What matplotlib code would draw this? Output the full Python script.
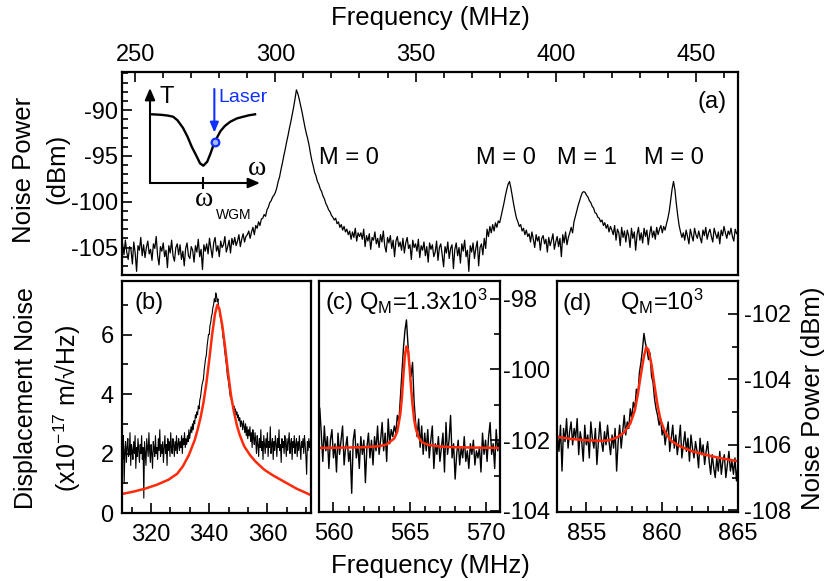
import matplotlib
matplotlib.use('Agg')
import matplotlib.pyplot as plt
import numpy as np
from matplotlib.ticker import MultipleLocator

plt.rcParams['font.family'] = ['Liberation Sans', 'DejaVu Sans']
plt.rcParams['mathtext.fontset'] = 'custom'
plt.rcParams['mathtext.rm'] = 'Liberation Sans'
plt.rcParams['mathtext.it'] = 'Liberation Sans'
plt.rcParams['axes.unicode_minus'] = False

# ---- (a) broad noise spectrum, 245.5 .. 465 MHz, 0.5 MHz step ----
f_a_start, f_a_step = 245.5, 0.5
noise_a = [
    -104.6, -105.8, -104.2, -105.5, -106.3, -104.9, -105.2, -106.8, -104.4, -105.6,
    -107.6, -104.8, -105.3, -103.9, -105.9, -104.7, -106.1, -105.0, -104.3, -105.7,
    -105.2, -106.4, -104.6, -105.1, -103.8, -105.9, -106.9, -104.9, -105.4, -104.5,
    -106.0, -105.3, -107.2, -104.8, -105.6, -104.2, -105.9, -106.5, -105.0, -104.6,
    -105.8, -104.7, -106.3, -105.4, -107.0, -105.1, -104.5, -105.9, -106.2, -104.9,
    -105.3, -106.6, -104.8, -105.5, -104.1, -106.0, -105.2, -107.4, -104.7, -105.4,
    -104.6, -105.7, -104.0, -105.1, -106.1, -104.5, -103.9, -105.4, -104.8, -106.0,
    -104.3, -105.0, -104.7, -103.8, -105.5, -104.9, -104.2, -105.6, -104.0, -104.7,
    -103.9, -104.8, -104.3, -103.6, -104.9, -104.1, -103.5, -104.4, -103.8, -103.6,
    -103.2, -104.0, -103.3, -102.8, -103.6, -102.6, -102.9, -102.2, -102.6, -101.9,
    -101.8, -101.4, -101.6, -100.9, -100.6, -100.1, -99.9, -99.5, -99.3, -99.0,
    -98.5, -97.8, -97.3, -96.5, -95.8, -95.0, -94.3, -93.5, -92.8, -92.0,
    -91.3, -90.5, -89.7, -88.8, -87.8, -88.2, -88.8, -89.5, -90.2, -91.0,
    -91.8, -92.5, -93.1, -93.8, -94.7, -95.5, -96.1, -96.8, -97.2, -97.8,
    -98.1, -98.6, -98.9, -99.4, -99.7, -100.2, -100.5, -100.9, -101.1, -101.5,
    -101.7, -102.0, -101.8, -102.4, -102.2, -102.8, -102.5, -103.1, -102.7, -103.3,
    -103.0, -103.6, -103.2, -104.1, -103.3, -103.9, -102.9, -104.3, -103.4, -103.8,
    -103.4, -104.1, -103.0, -104.9, -103.7, -104.3, -103.5, -105.2, -103.9, -104.2,
    -103.3, -104.6, -104.0, -105.0, -103.6, -104.4, -103.2, -104.8, -105.5, -103.9,
    -104.5, -103.7, -105.1, -104.2, -106.0, -104.3, -103.8, -104.9, -104.4, -105.3,
    -104.0, -105.6, -104.5, -103.9, -105.1, -104.7, -106.3, -104.2, -105.0, -104.6,
    -105.4, -104.1, -106.1, -104.8, -105.3, -104.4, -105.9, -104.9, -106.6, -104.5,
    -105.2, -104.7, -106.0, -105.5, -104.3, -106.4, -105.0, -104.6, -105.8, -107.1,
    -104.9, -105.6, -104.4, -106.2, -105.1, -104.7, -107.3, -105.2, -104.5, -105.9,
    -105.0, -106.7, -104.6, -105.4, -104.2, -106.0, -105.3, -107.6, -104.8, -105.5,
    -104.5, -106.2, -105.1, -104.3, -107.0, -105.0, -104.6, -105.8, -104.0, -105.1,
    -103.0, -103.8, -102.7, -103.4, -102.5, -103.2, -102.3, -102.8, -102.1, -102.3,
    -101.6, -100.9, -100.2, -99.4, -98.7, -98.1, -97.8, -98.5, -99.4, -100.3,
    -101.1, -101.8, -102.2, -102.7, -102.5, -103.2, -102.9, -103.6, -103.1, -103.8,
    -103.5, -104.4, -103.3, -104.1, -105.0, -103.6, -104.3, -103.8, -105.3, -104.0,
    -103.7, -104.6, -104.1, -105.5, -103.9, -104.8, -104.2, -103.5, -105.2, -104.4,
    -103.8, -104.9, -104.0, -106.0, -103.6, -104.5, -103.3, -104.7, -103.9, -103.4,
    -102.8, -103.4, -102.2, -101.6, -101.0, -100.4, -99.9, -99.4, -99.0, -98.9,
    -99.0, -99.3, -99.5, -99.9, -100.1, -100.5, -100.7, -101.2, -101.3, -101.7,
    -101.8, -102.2, -102.0, -102.6, -102.3, -102.9, -102.5, -103.3, -102.7, -103.1,
    -103.6, -102.6, -104.2, -103.0, -103.4, -104.8, -102.8, -103.9, -103.2, -104.4,
    -103.1, -103.7, -105.0, -102.9, -104.0, -103.3, -105.3, -103.6, -102.8, -104.2,
    -103.4, -104.5, -102.9, -103.8, -103.1, -104.7, -103.5, -102.7, -103.9, -103.2,
    -104.1, -102.8, -103.6, -103.0, -102.6, -103.4, -102.7, -103.1, -102.4, -101.8,
    -101.0, -99.8, -98.6, -97.8, -98.7, -100.2, -101.5, -102.6, -103.3, -103.9,
    -103.4, -104.2, -103.1, -103.8, -104.6, -103.0, -103.7, -104.3, -102.9, -103.6,
    -104.0, -103.2, -103.9, -104.5, -103.1, -103.7, -102.8, -104.1, -103.4, -103.0,
    -103.8, -104.4, -102.9, -103.5, -104.0, -103.3, -104.6, -103.1, -103.7, -102.7,
    -103.4, -104.0, -103.2, -103.6, -102.9, -103.8, -104.3, -103.0, -103.5, -103.2,
]
mode_labels = ['M = 0', 'M = 0', 'M = 1', 'M = 0']
mode_label_freq = [315.4, 371.5, 400.5, 431.4]

# ---- (b) displacement noise, 310 .. 375 MHz, 0.25 MHz step ----
f_b_start, f_b_step = 310.0, 0.25
disp_b = [
    2.3, 1.8, 2.6, 1.0, 2.1, 2.4, 1.7, 2.2,
    2.5, 1.9, 2.0, 2.7, 1.6, 2.3, 2.1, 1.8,
    2.4, 2.0, 2.6, 1.5, 2.2, 1.9, 2.5, 2.1,
    1.7, 2.3, 2.0, 2.6, 1.8, 2.2, 0.5, 2.4,
    2.0, 1.6, 2.5, 2.2, 1.9, 2.7, 2.1, 1.7,
    2.3, 2.0, 1.5, 2.4, 2.2, 1.9, 2.6, 2.0,
    2.2, 1.8, 2.5, 2.1, 2.8, 1.9, 2.3, 2.0,
    2.4, 1.7, 2.2, 2.6, 2.0, 2.3, 1.6, 2.5,
    2.1, 2.4, 1.9, 2.7, 2.2, 2.0, 2.5, 2.3,
    1.9, 2.4, 2.1, 2.6, 2.0, 2.3, 2.5, 2.1,
    2.4, 2.2, 2.6, 2.0, 2.5, 2.3, 2.7, 2.2,
    2.5, 2.3, 2.6, 2.4, 2.8, 2.5, 2.7, 2.9,
    2.7, 3.0, 2.8, 3.1, 3.0, 3.3, 3.2, 3.4,
    3.3, 3.6, 3.5, 3.8, 3.9, 4.1, 4.3, 4.4,
    4.5, 4.8, 5.0, 5.2, 5.3, 5.6, 5.8, 6.0,
    6.0, 6.3, 6.4, 6.6, 6.7, 6.9, 7.0, 7.2,
    7.1, 7.4, 7.3, 7.1, 7.2, 6.9, 6.9, 6.6,
    6.6, 6.3, 6.2, 5.9, 5.8, 5.5, 5.3, 5.1,
    4.9, 4.6, 4.5, 4.3, 4.1, 3.9, 3.9, 3.7,
    3.7, 3.5, 3.6, 3.4, 3.5, 3.3, 3.4, 3.2,
    3.3, 3.1, 3.2, 2.9, 3.1, 3.0, 2.8, 3.1,
    2.9, 2.7, 3.0, 2.6, 2.9, 2.5, 2.8, 2.6,
    2.9, 2.4, 2.7, 2.2, 2.8, 2.5, 2.3, 2.7,
    2.4, 2.0, 2.6, 2.3, 1.9, 2.5, 2.2, 2.8,
    2.1, 2.4, 1.8, 2.6, 2.3, 2.0, 2.5, 2.2,
    2.7, 1.9, 2.4, 2.2, 2.9, 2.0, 2.3, 2.5,
    1.8, 2.4, 2.1, 2.6, 2.3, 1.9, 2.5, 2.2,
    2.8, 2.1, 2.3, 1.7, 2.5, 2.2, 2.4, 2.0,
    2.6, 2.3, 1.9, 2.5, 2.1, 2.4, 2.7, 2.0,
    2.3, 2.5, 1.8, 2.4, 2.2, 2.6, 2.0, 2.3,
    2.5, 1.9, 2.4, 2.1, 2.6, 2.2, 1.8, 2.4,
    2.2, 2.5, 2.0, 2.6, 2.3, 1.9, 1.3, 2.4,
    2.1, 2.5, 2.2, 2.4, 2.3,
]
fit_b_freq = [310, 314, 318, 322, 326, 329, 331, 333, 335, 336, 337, 338, 339, 340, 341, 342,
              342.8, 343.5, 344.5, 345.5, 346.5, 347.5, 348.5, 349.5, 350.5, 352, 354, 356,
              359, 362, 366, 370, 375]
fit_b = [0.64, 0.72, 0.82, 0.95, 1.12, 1.32, 1.58, 1.95, 2.45, 2.80, 3.20, 3.70, 4.35, 5.15, 6.00,
         6.70, 7.0, 6.85, 6.30, 5.55, 4.70, 3.95, 3.40, 2.95, 2.62, 2.25, 1.95, 1.72, 1.45, 1.26,
         1.04, 0.82, 0.60]

# ---- (c) 559.1 .. 571.0 MHz, 0.1 MHz step ----
f_c_start, f_c_step = 559.1, 0.1
power_c = [
    -101.1, -101.8, -102.6, -101.6, -102.3, -101.9, -102.8, -102.0, -101.7, -102.5,
    -102.1, -102.9, -101.8, -102.4, -102.0, -101.6, -102.7, -102.2, -101.9, -102.6,
    -102.3, -103.5, -102.0, -101.7, -102.5, -102.1, -102.8, -101.9, -102.4, -102.0,
    -103.2, -102.2, -101.8, -102.5, -102.0, -102.7, -101.9, -102.3, -101.6, -102.4,
    -102.0, -101.5, -102.3, -101.8, -102.6, -101.4, -102.1, -101.7, -101.9, -101.6,
    -101.8, -101.3, -101.5, -100.8, -100.1, -99.4, -98.9, -98.6, -99.3, -99.9,
    -100.2, -99.8, -100.9, -101.5, -101.9, -101.4, -102.2, -101.6, -102.4, -101.8,
    -102.3, -101.7, -102.5, -102.0, -101.6, -102.8, -102.1, -102.4, -101.9, -102.6,
    -102.2, -101.8, -102.9, -101.5, -102.4, -102.0, -101.3, -102.5, -102.1, -103.1,
    -102.4, -102.0, -102.7, -102.2, -102.5, -101.9, -102.6, -102.3, -102.8, -102.1,
    -102.4, -102.0, -102.7, -102.3, -102.5, -102.2, -102.9, -101.8, -102.4, -102.0,
    -102.6, -101.9, -101.5, -102.4, -102.1, -102.8, -101.7, -102.3, -102.0, -102.5,
]
fit_c_freq = [559.0, 562.0, 563.0, 563.5, 564.0, 564.2, 564.4, 564.5, 564.6, 564.7, 564.8, 564.9,
              565.0, 565.1, 565.2, 565.3, 565.4, 565.6, 565.8, 566.2, 567.0, 568.0, 571.0]
fit_c = [-102.22, -102.2, -102.17, -102.12, -101.95, -101.75, -101.25, -100.8, -100.15, -99.6,
         -99.35, -99.45, -99.9, -100.5, -101.0, -101.4, -101.65, -101.92, -102.05, -102.13,
         -102.18, -102.2, -102.22]

# ---- (d) 853.1 .. 865.0 MHz, 0.1 MHz step ----
f_d_start, f_d_step = 853.1, 0.1
power_d = [
    -105.7, -106.2, -105.4, -106.8, -105.5, -105.9, -105.2, -106.1, -105.6, -105.3,
    -106.0, -105.5, -105.8, -105.2, -106.3, -105.6, -105.9, -106.5, -105.4, -106.0,
    -105.7, -106.4, -105.3, -105.8, -106.1, -105.5, -106.6, -105.9, -105.3, -105.9,
    -106.2, -105.6, -106.0, -105.4, -105.9, -106.3, -105.7, -106.1, -105.5, -106.8,
    -105.9, -105.4, -106.1, -105.6, -105.1, -105.7, -105.3, -105.5, -104.9, -105.2,
    -104.7, -104.9, -104.3, -104.5, -103.8, -103.5, -103.1, -102.6, -102.9, -103.1,
    -103.4, -103.2, -103.9, -104.1, -104.6, -104.9, -105.1, -105.4, -105.2, -105.7,
    -105.5, -106.0, -105.6, -105.3, -106.2, -105.8, -105.4, -106.1, -105.7, -106.3,
    -105.9, -105.4, -106.4, -106.0, -105.6, -106.2, -105.8, -106.5, -105.7, -106.1,
    -106.4, -105.9, -106.2, -106.7, -105.8, -106.3, -106.0, -106.6, -106.2, -105.9,
    -106.5, -106.9, -106.3, -106.7, -107.0, -106.4, -106.8, -106.2, -106.9, -106.5,
    -106.3, -107.0, -106.6, -106.2, -106.8, -106.5, -106.9, -106.4, -107.1, -106.6,
]
fit_d_freq = [853.1, 854, 855, 856, 856.5, 857, 857.5, 857.9, 858.2, 858.4, 858.6, 858.8, 858.95,
              859.1, 859.3, 859.5, 859.7, 859.9, 860.2, 860.6, 861.2, 862, 863, 864, 865]
fit_d = [-105.76, -105.82, -105.86, -105.88, -105.86, -105.78, -105.62, -105.35, -104.95, -104.45,
         -103.85, -103.3, -103.02, -103.1, -103.55, -104.2, -104.8, -105.25, -105.62, -105.88,
         -106.05, -106.2, -106.32, -106.42, -106.5]

# ---- inset: transmission dip sketch ----
omega_dip = [0.02, 0.10, 0.16, 0.21, 0.25, 0.30, 0.34, 0.38, 0.42, 0.455, 0.485, 0.52, 0.55,
             0.58, 0.61, 0.64, 0.68, 0.73, 0.79, 0.85, 0.90, 0.955]
T_dip = [0.723, 0.718, 0.71, 0.698, 0.66, 0.58, 0.49, 0.38, 0.29, 0.207, 0.182, 0.224, 0.31,
         0.41, 0.48, 0.545, 0.60, 0.645, 0.68, 0.698, 0.713, 0.723]
omega_wgm = 0.485
laser_omega, laser_T = 0.59, 0.435

RED = '#ff2a0a'
W, H = 826, 581


def box(l, t, r, b):
    return [l / W, 1 - b / H, (r - l) / W, (b - t) / H]


def style(ax):
    for s in ax.spines.values():
        s.set_linewidth(1.6)
    ax.tick_params(which='both', direction='in', width=1.2, labelsize=17)
    ax.tick_params(which='major', length=7)
    ax.tick_params(which='minor', length=4)


fig = plt.figure(figsize=(W / 100, H / 100), dpi=100)

# panel (a)
ax_a = fig.add_axes(box(122, 72, 738, 275))
f_a = f_a_start + f_a_step * np.arange(len(noise_a))
ax_a.plot(f_a, noise_a, color='black', lw=0.9)
ax_a.set_xlim(245.3, 465)
ax_a.set_ylim(-108, -85.85)
style(ax_a)
ax_a.xaxis.tick_top()
ax_a.tick_params(which='both', top=True, bottom=False, left=True, right=False)
ax_a.tick_params(axis='x', pad=4)
ax_a.tick_params(axis='y', pad=3)
ax_a.xaxis.set_major_locator(MultipleLocator(50))
ax_a.xaxis.set_minor_locator(MultipleLocator(10))
ax_a.yaxis.set_major_locator(MultipleLocator(5))
ax_a.yaxis.set_minor_locator(MultipleLocator(1))
for lab, fr in zip(mode_labels, mode_label_freq):
    ax_a.text(fr, -95.2, lab, fontsize=17, ha='left', va='center')
ax_a.text(0.982, 0.854, '(a)', transform=ax_a.transAxes, fontsize=17, ha='right', va='center')

# inset sketch
ax_in = fig.add_axes(box(150, 88, 260, 183))
ax_in.set_xlim(0, 1)
ax_in.set_ylim(0, 1)
ax_in.axis('off')
arrow = dict(arrowstyle='-|>,head_length=0.7,head_width=0.3', color='black', lw=1.5,
             shrinkA=0, shrinkB=0)
ax_in.annotate('', xy=(1.0, 0), xytext=(0, 0), arrowprops=arrow, annotation_clip=False)
ax_in.annotate('', xy=(0, 1.0), xytext=(0, 0), arrowprops=arrow, annotation_clip=False)
ax_in.plot(omega_dip, T_dip, color='black', lw=1.7)
ax_in.plot([omega_wgm, omega_wgm], [-0.055, 0.055], color='black', lw=1.5, clip_on=False)
blue_arrow = dict(arrowstyle='-|>,head_length=0.6,head_width=0.25', color='#1030ff', lw=1.5,
                  shrinkA=0, shrinkB=0)
ax_in.annotate('', xy=(laser_omega - 0.005, 0.53), xytext=(laser_omega - 0.005, 0.99),
               arrowprops=blue_arrow, annotation_clip=False)
ax_in.plot([laser_omega], [laser_T], 'o', ms=5.5, mfc='#a8b8ff', mec='#1030ff', mew=1.6)
ax_in.text(laser_omega + 0.035, 0.905, 'Laser', color='#1030ff', fontsize=14, ha='left', va='center')
ax_in.text(0.152, 0.9, 'T', fontsize=17, ha='center', va='center')
ax_in.text(0.975, 0.15, '\u03c9', fontsize=20, family='Liberation Serif', ha='center', va='center')
ax_in.text(0.49, -0.17, '\u03c9', fontsize=20, family='Liberation Serif', ha='center', va='center')
ax_in.text(0.765, -0.34, 'WGM', fontsize=10, ha='center', va='center')

# panel (b)
ax_b = fig.add_axes(box(122, 281, 311, 513))
f_b = f_b_start + f_b_step * np.arange(len(disp_b))
ax_b.plot(f_b, disp_b, color='black', lw=0.8)
ax_b.plot(fit_b_freq, fit_b, color=RED, lw=1.8)
ax_b.set_xlim(310, 375)
ax_b.set_ylim(0, 7.8)
style(ax_b)
ax_b.tick_params(which='both', top=False, right=False)
ax_b.tick_params(axis='x', pad=8)
ax_b.tick_params(axis='y', pad=6)
ax_b.xaxis.set_major_locator(MultipleLocator(20))
ax_b.xaxis.set_minor_locator(MultipleLocator(20 / 3))
ax_b.yaxis.set_major_locator(MultipleLocator(2))
ax_b.yaxis.set_minor_locator(MultipleLocator(1))
ax_b.text(0.067, 0.88, '(b)', transform=ax_b.transAxes, fontsize=17, ha='left', va='baseline')

# panel (c)
ax_c = fig.add_axes(box(319, 281, 500, 512))
f_c = f_c_start + f_c_step * np.arange(len(power_c))
ax_c.plot(f_c, power_c, color='black', lw=1.0)
ax_c.plot(fit_c_freq, fit_c, color=RED, lw=1.8)
ax_c.set_xlim(559.05, 570.95)
ax_c.set_ylim(-104.03, -97.5)
style(ax_c)
ax_c.yaxis.tick_right()
ax_c.tick_params(which='both', top=False, left=False, right=True)
ax_c.tick_params(axis='x', pad=8)
ax_c.tick_params(axis='y', pad=2)
ax_c.xaxis.set_major_locator(MultipleLocator(5))
ax_c.xaxis.set_minor_locator(MultipleLocator(1))
ax_c.yaxis.set_major_locator(MultipleLocator(2))
ax_c.yaxis.set_minor_locator(MultipleLocator(1))
ax_c.text(0.033, 0.876, r'(c) Q$_\mathregular{M}$=1.3x10$^\mathregular{3}$', transform=ax_c.transAxes,
          fontsize=17, ha='left', va='baseline')

# panel (d)
ax_d = fig.add_axes(box(557, 281, 738, 512))
f_d = f_d_start + f_d_step * np.arange(len(power_d))
ax_d.plot(f_d, power_d, color='black', lw=1.0)
ax_d.plot(fit_d_freq, fit_d, color=RED, lw=1.8)
ax_d.set_xlim(853.07, 865)
ax_d.set_ylim(-108.05, -101.0)
style(ax_d)
ax_d.yaxis.tick_right()
ax_d.tick_params(which='both', top=False, left=False, right=True)
ax_d.tick_params(axis='x', pad=8)
ax_d.tick_params(axis='y', pad=4)
ax_d.xaxis.set_major_locator(MultipleLocator(5))
ax_d.xaxis.set_minor_locator(MultipleLocator(1))
ax_d.yaxis.set_major_locator(MultipleLocator(2))
ax_d.yaxis.set_minor_locator(MultipleLocator(1))
ax_d.text(0.033, 0.876, '(d)', transform=ax_d.transAxes, fontsize=17, ha='left', va='baseline')
ax_d.text(0.346, 0.876, r'Q$_\mathregular{M}$=10$^\mathregular{3}$', transform=ax_d.transAxes,
          fontsize=17, ha='left', va='baseline')

# axis titles
fig.text(430 / W, 1 - 18 / H, 'Frequency (MHz)', fontsize=18.5, ha='center', va='center')
fig.text(430 / W, 1 - 566 / H, 'Frequency (MHz)', fontsize=18.5, ha='center', va='center')
fig.text(24 / W, 1 - 170 / H, 'Noise Power', fontsize=18.5, rotation=90, ha='center', va='center')
fig.text(57 / W, 1 - 169 / H, '(dBm)', fontsize=18.5, rotation=90, ha='center', va='center')
fig.text(26 / W, 1 - 398 / H, 'Displacement Noise', fontsize=18, rotation=90, ha='center', va='center')
fig.text(67 / W, 1 - 408 / H, '(x10$^{\\mathregular{-17}}$ m/\u221aHz)', fontsize=18, rotation=90,
         ha='center', va='center')
fig.text(813 / W, 1 - 398 / H, 'Noise Power (dBm)', fontsize=18.5, rotation=90, ha='center', va='center')

fig.savefig('out.png', dpi=100)
